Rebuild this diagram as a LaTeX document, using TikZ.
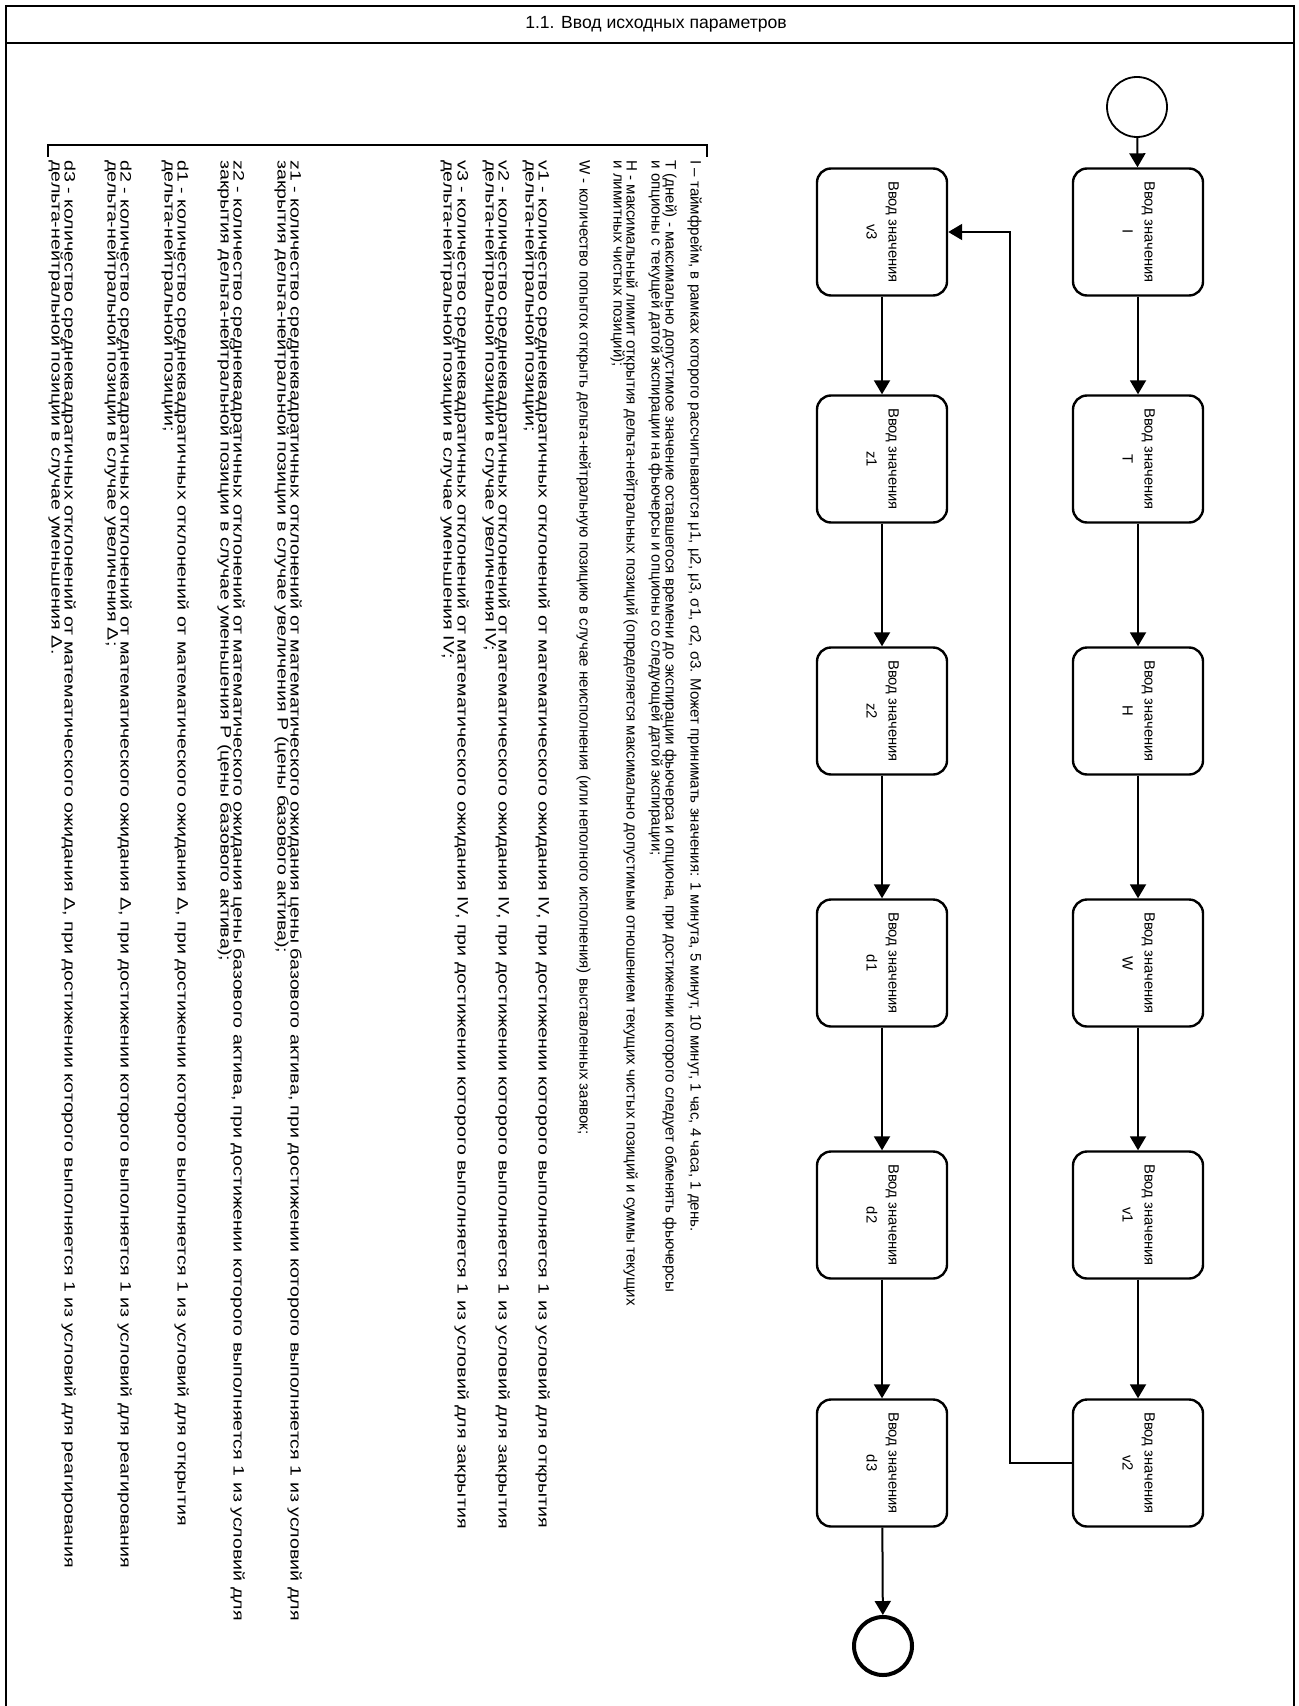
\documentclass[tikz,border=0pt]{standalone}
\usepackage{fontspec}
\setmainfont{Liberation Sans}
\usetikzlibrary{arrows.meta}
\newcommand\boxlab[2]{\rotatebox{-90}{\begin{tabular}{@{}c@{}}#1\\#2\end{tabular}}}
\newcommand\wideline[1]{\scalebox{1.3}[1]{#1}}
\begin{document}
\begin{tikzpicture}[x=0.5pt,y=-0.5pt,
  frame/.style={line width=1.3pt},
  taskbox/.style={draw, line width=1.2pt, rounded corners=7pt, minimum width=65pt, minimum height=63.5pt, inner sep=0pt, font=\fontsize{7.4pt}{11pt}\selectfont},
  startev/.style={draw, circle, line width=0.9pt, minimum size=30pt, inner sep=0pt},
  endev/.style={draw, circle, line width=2pt, minimum size=29pt, inner sep=0pt},
  flow/.style={line width=1pt, -{Triangle[length=7pt,width=8pt]}},
  note/.style={rotate=-90, anchor=mid west, inner sep=0pt, font=\fontsize{7.55pt}{9pt}\selectfont},
  bracket/.style={line width=1.2pt},
]
\useasboundingbox (0,0) rectangle (1299,1706);
% frame
\draw[frame] (6,1800) -- (6,6) -- (1294,6) -- (1294,1800);
\draw[frame] (6,43) -- (1294,43);
\node[font=\fontsize{8.8pt}{10pt}\selectfont] (title) at (656,24) {1.1. Ввод исходных параметров};

% events and tasks
\node[startev] (st) at (1137,107) {};
\node[taskbox] (tI)  at (1138,232)  {\boxlab{Ввод значения}{I}};
\node[taskbox] (tT)  at (1138,459)  {\boxlab{Ввод значения}{T}};
\node[taskbox] (tH)  at (1138,711)  {\boxlab{Ввод значения}{H}};
\node[taskbox] (tW)  at (1138,963)  {\boxlab{Ввод значения}{W}};
\node[taskbox] (tv1) at (1138,1215) {\boxlab{Ввод значения}{v1}};
\node[taskbox] (tv2) at (1138,1463) {\boxlab{Ввод значения}{v2}};
\node[taskbox] (tv3) at (882,232)  {\boxlab{Ввод значения}{v3}};
\node[taskbox] (tz1) at (882,459)  {\boxlab{Ввод значения}{z1}};
\node[taskbox] (tz2) at (882,711)  {\boxlab{Ввод значения}{z2}};
\node[taskbox] (td1) at (882,963)  {\boxlab{Ввод значения}{d1}};
\node[taskbox] (td2) at (882,1215) {\boxlab{Ввод значения}{d2}};
\node[taskbox] (td3) at (882,1463) {\boxlab{Ввод значения}{d3}};
\node[endev] (en) at (883,1646) {};
\coordinate (bk) at (1010,0);

% flows
\draw[flow] (st) -- (tI);
\draw[flow] (tI) -- (tT);
\draw[flow] (tT) -- (tH);
\draw[flow] (tH) -- (tW);
\draw[flow] (tW) -- (tv1);
\draw[flow] (tv1) -- (tv2);
\draw[flow] (tv2.west) -- (tv2.west -| bk) |- (tv3.east);
\draw[flow] (tv3) -- (tz1);
\draw[flow] (tz1) -- (tz2);
\draw[flow] (tz2) -- (td1);
\draw[flow] (td1) -- (td2);
\draw[flow] (td2) -- (td3);
\draw[flow] (td3) -- (en);

% annotation
\draw[bracket] (48,157) -- (48,145) -- (707,145) -- (707,157);
\node[note] (a1) at (696,160) {I – таймфрейм, в рамках которого рассчитываются μ1, μ2, μ3, σ1, σ2, σ3. Может принимать значения: 1 минута, 5 минут, 10 минут, 1 час, 4 часа, 1 день.};
\node[note] (a2) at (671,160) {T (дней) - максимально допустимое значение оставшегося времени до экспирации фьючерса и опциона, при достижении которого следует обменять фьючерсы};
\node[note] (a3) at (657,160) {и опционы с текущей датой экспирации  на фьючерсы и опционы со следующей датой экспирации;};
\node[note] (a4) at (632,160) {H - максимальный лимит открытия дельта-нейтральных позиций (определяется максимально допустимым отношением текущих чистых позиций и суммы текущих};
\node[note] (a5) at (619,160) {и лимитных чистых позиций);};
\node[note] (a6) at (585,160) {W - количество попыток открыть дельта-нейтральную позицию в случае неисполнения (или неполного исполнения) выставленных заявок;};
\node[note] (a7) at (544,160) {\wideline{v1 - количество среднеквадратичных отклонений от математического ожидания IV, при достижении которого выполняется 1 из условий для открытия}};
\node[note] (a8) at (531,160) {\wideline{дельта-нейтральной позиции;}};
\node[note] (a9) at (504,160) {\wideline{v2 - количество среднеквадратичных отклонений от математического ожидания IV, при достижении которого выполняется 1 из условий для закрытия}};
\node[note] (a10) at (491,160) {\wideline{дельта-нейтральной позиции в случае увеличения IV;}};
\node[note] (a11) at (463,160) {\wideline{v3 - количество среднеквадратичных отклонений от математического ожидания IV, при достижении которого выполняется 1 из условий для закрытия}};
\node[note] (a12) at (449,160) {\wideline{дельта-нейтральной позиции в случае уменьшения IV;}};
\node[note] (a13) at (296,160) {\wideline{z1 - количество среднеквадратичных отклонений от математического ожидания цены базового актива, при достижении которого выполняется 1 из условий для}};
\node[note] (a14) at (283,160) {\wideline{закрытия дельта-нейтральной позиции в случае увеличения P (цены базового актива);}};
\node[note] (a15) at (239,160) {\wideline{z2 - количество среднеквадратичных отклонений от математического ожидания цены базового актива, при достижении которого выполняется 1 из условий для}};
\node[note] (a16) at (226,160) {\wideline{закрытия дельта-нейтральной позиции в случае уменьшения P (цены базового актива);}};
\node[note] (a17) at (183,160) {\wideline{d1 - количество среднеквадратичных отклонений от математического ожидания Δ, при достижении которого выполняется 1 из условий для открытия}};
\node[note] (a18) at (170,160) {\wideline{дельта-нейтральной позиции;}};
\node[note] (a19) at (126,160) {\wideline{d2 - количество среднеквадратичных отклонений от математического ожидания Δ, при достижении которого выполняется 1 из условий для реагирования}};
\node[note] (a20) at (113,160) {\wideline{дельта-нейтральной позиции в случае увеличения Δ;}};
\node[note] (a21) at (70,160) {\wideline{d3 - количество среднеквадратичных отклонений от математического ожидания Δ, при достижении которого выполняется 1 из условий для реагирования}};
\node[note] (a22) at (57,160) {\wideline{дельта-нейтральной позиции в случае уменьшения Δ.}};
\end{tikzpicture}
\end{document}
